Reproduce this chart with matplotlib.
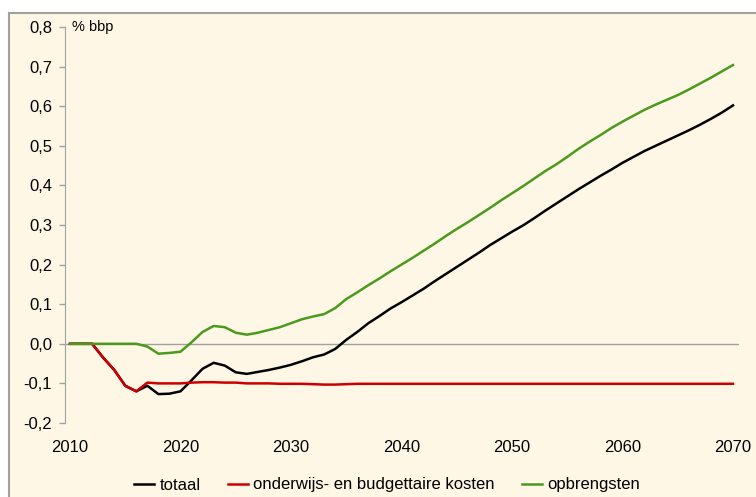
import numpy as np
import matplotlib
matplotlib.use("Agg")
import matplotlib.pyplot as plt
from matplotlib.patches import Rectangle
from matplotlib.ticker import FuncFormatter

plt.rcParams['font.family'] = ['Liberation Sans', 'DejaVu Sans']

years = list(range(2010, 2071))

# totaal
totaal = [0, 0, 0, -0.035, -0.066, -0.106, -0.12, -0.106, -0.127, -0.126,
          -0.12, -0.092, -0.063, -0.048, -0.055, -0.072, -0.076, -0.071, -0.066, -0.06,
          -0.053, -0.044, -0.034, -0.027, -0.013, 0.01, 0.03, 0.052, 0.07, 0.089,
          0.105, 0.122, 0.139, 0.158, 0.176, 0.194, 0.212, 0.23, 0.249, 0.266,
          0.283, 0.299, 0.317, 0.336, 0.354, 0.372, 0.39, 0.407, 0.424, 0.44,
          0.457, 0.472, 0.487, 0.5, 0.513, 0.526, 0.539, 0.553, 0.568, 0.584,
          0.602]

# onderwijs- en budgettaire kosten
kosten = [0, 0, 0, -0.035, -0.066, -0.106, -0.12, -0.098, -0.1, -0.1,
          -0.1, -0.098, -0.097, -0.097, -0.098, -0.098, -0.1, -0.1, -0.1, -0.101,
          -0.101, -0.101, -0.102, -0.103, -0.103, -0.102] + [-0.101] * 35

# opbrengsten
opbrengsten = [0, 0, 0, 0, 0, 0, 0, -0.007, -0.025, -0.023,
               -0.02, 0.004, 0.03, 0.045, 0.042, 0.028, 0.023, 0.028, 0.035, 0.042,
               0.052, 0.062, 0.069, 0.075, 0.09, 0.113, 0.13, 0.148, 0.165, 0.183,
               0.2, 0.217, 0.235, 0.253, 0.272, 0.29, 0.307, 0.325, 0.343, 0.362,
               0.38, 0.398, 0.417, 0.436, 0.453, 0.472, 0.492, 0.51, 0.527, 0.545,
               0.561, 0.576, 0.591, 0.604, 0.616, 0.628, 0.642, 0.657, 0.672, 0.688,
               0.704]

labels = ["totaal", "onderwijs- en budgettaire kosten", "opbrengsten"]
colors = ["#000000", "#CC0000", "#4A9A1E"]
xticks = [2010, 2020, 2030, 2040, 2050, 2060, 2070]
yticks = [-0.2, -0.1, 0.0, 0.1, 0.2, 0.3, 0.4, 0.5, 0.6, 0.7, 0.8]

bg = "#FFF7E6"
fig = plt.figure(figsize=(7.56, 4.97), dpi=100, facecolor="white")
# cream panel with grey border (runs off right/bottom)
panel = Rectangle((9 / 756, -0.05), 1.0, 1 - 13 / 497 + 0.05,
                  transform=fig.transFigure, facecolor=bg,
                  edgecolor="#A0A0A0", linewidth=1.5, zorder=-10)
fig.patches.append(panel)

ax = fig.add_axes([64.5 / 756, 1 - 423 / 497, 674 / 756, 396 / 497])
ax.set_facecolor("none")

ax.axhline(0, color="#A0A0A0", linewidth=1.0, zorder=1)
for series, lab, col in zip([totaal, kosten, opbrengsten], labels, colors):
    ax.plot(years, series, color=col, linewidth=1.8, label=lab, zorder=3)

ax.set_xlim(2009.5, 2070.5)
ax.set_ylim(-0.2, 0.8)
ax.set_xticks(xticks)
ax.set_yticks(yticks)
ax.yaxis.set_major_formatter(FuncFormatter(lambda v, p: f"{v:.1f}".replace(".", ",").replace("-0,0", "0,0")))

for s in ["top", "right", "bottom"]:
    ax.spines[s].set_visible(False)
ax.spines["left"].set_color("#A0A0A0")
ax.tick_params(axis="y", colors="#A0A0A0", labelcolor="black", length=4, width=1,
               labelsize=12, pad=5)
ax.tick_params(axis="x", length=0, labelsize=12, pad=12)

fig.text(72 / 756, 1 - 27 / 497, "% bbp", fontsize=10.5, ha="left", va="center")

fig.legend(loc="center", bbox_to_anchor=(387 / 756, 1 - 485 / 497), ncol=3,
           frameon=False, fontsize=12, handlelength=1.2, columnspacing=1.6,
           handletextpad=0.35)

fig.savefig("out.png", dpi=100, facecolor="white")
